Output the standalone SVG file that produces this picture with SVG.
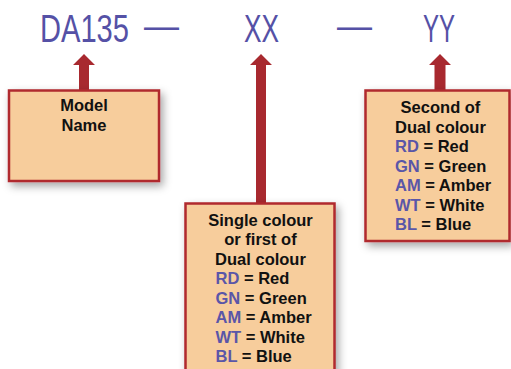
<svg xmlns="http://www.w3.org/2000/svg" width="511" height="369" viewBox="0 0 511 369">
<defs>
<filter id="sh" x="-20%" y="-20%" width="140%" height="140%">
<feDropShadow dx="3" dy="4" stdDeviation="4" flood-color="#000" flood-opacity="0.35"/>
</filter>
<style>
.title{font-family:"Liberation Sans",Arial,sans-serif;font-size:29.5px;fill:#5551a6}
.box{fill:#f7cd9c;stroke:#b0292f;stroke-width:2.5}
.arrow{fill:#a8292f}
.t{font-family:"Liberation Sans",Arial,sans-serif;font-size:16.5px;font-weight:bold;fill:#111}
.c{fill:#5a56a8}
</style>
</defs>
<g id="title" transform="translate(0,41.5) scale(1,1.32)">
<text class="title" y="0"><tspan x="40" textLength="89" lengthAdjust="spacingAndGlyphs">DA135</tspan><tspan x="144" dy="-1.9" textLength="35" lengthAdjust="spacingAndGlyphs">—</tspan><tspan x="244" dy="1.9" textLength="35" lengthAdjust="spacingAndGlyphs">XX</tspan><tspan x="337" dy="-1.9" textLength="35" lengthAdjust="spacingAndGlyphs">—</tspan><tspan x="423" dy="1.9" textLength="32" lengthAdjust="spacingAndGlyphs">YY</tspan></text>
</g>
<g id="connectors">
<polygon class="arrow" points="84,54 95,65 89,65 89,91 79,91 79,65 73,65"/>
<polygon class="arrow" points="261,54 272,65 266,65 266,204 256,204 256,65 250,65"/>
<polygon class="arrow" points="440,54 451,65 445.5,65 445.5,91 434.5,91 434.5,65 429,65"/>
</g>
<g id="model-name">
<rect class="box" x="9" y="90.5" width="150" height="90.5" filter="url(#sh)"/>
<text class="t" text-anchor="middle" x="84" y="111">Model</text>
<text class="t" text-anchor="middle" x="84" y="131">Name</text>
</g>
<g id="first-colour">
<rect class="box" x="185.5" y="203.5" width="149" height="180" filter="url(#sh)"/>
<text class="t" text-anchor="middle" x="260.5" y="226">Single colour</text>
<text class="t" text-anchor="middle" x="260.5" y="245">or first of</text>
<text class="t" text-anchor="middle" x="260.5" y="264.5">Dual colour</text>
<text class="t" x="215.5" y="284"><tspan class="c">RD</tspan> = Red</text>
<text class="t" x="215.5" y="303.5"><tspan class="c">GN</tspan> = Green</text>
<text class="t" x="215.5" y="323"><tspan class="c">AM</tspan> = Amber</text>
<text class="t" x="215.5" y="342.5"><tspan class="c">WT</tspan> = White</text>
<text class="t" x="215.5" y="362"><tspan class="c">BL</tspan>  = Blue</text>
</g>
<g id="second-colour">
<rect class="box" x="365.5" y="90.5" width="144" height="150.5" filter="url(#sh)"/>
<text class="t" text-anchor="middle" x="440.5" y="113">Second of</text>
<text class="t" text-anchor="middle" x="440.5" y="132.5">Dual colour</text>
<text class="t" x="395" y="152"><tspan class="c">RD</tspan> = Red</text>
<text class="t" x="395" y="171.5"><tspan class="c">GN</tspan> = Green</text>
<text class="t" x="395" y="191"><tspan class="c">AM</tspan> = Amber</text>
<text class="t" x="395" y="210.5"><tspan class="c">WT</tspan> = White</text>
<text class="t" x="395" y="230"><tspan class="c">BL</tspan>  = Blue</text>
</g>
</svg>
